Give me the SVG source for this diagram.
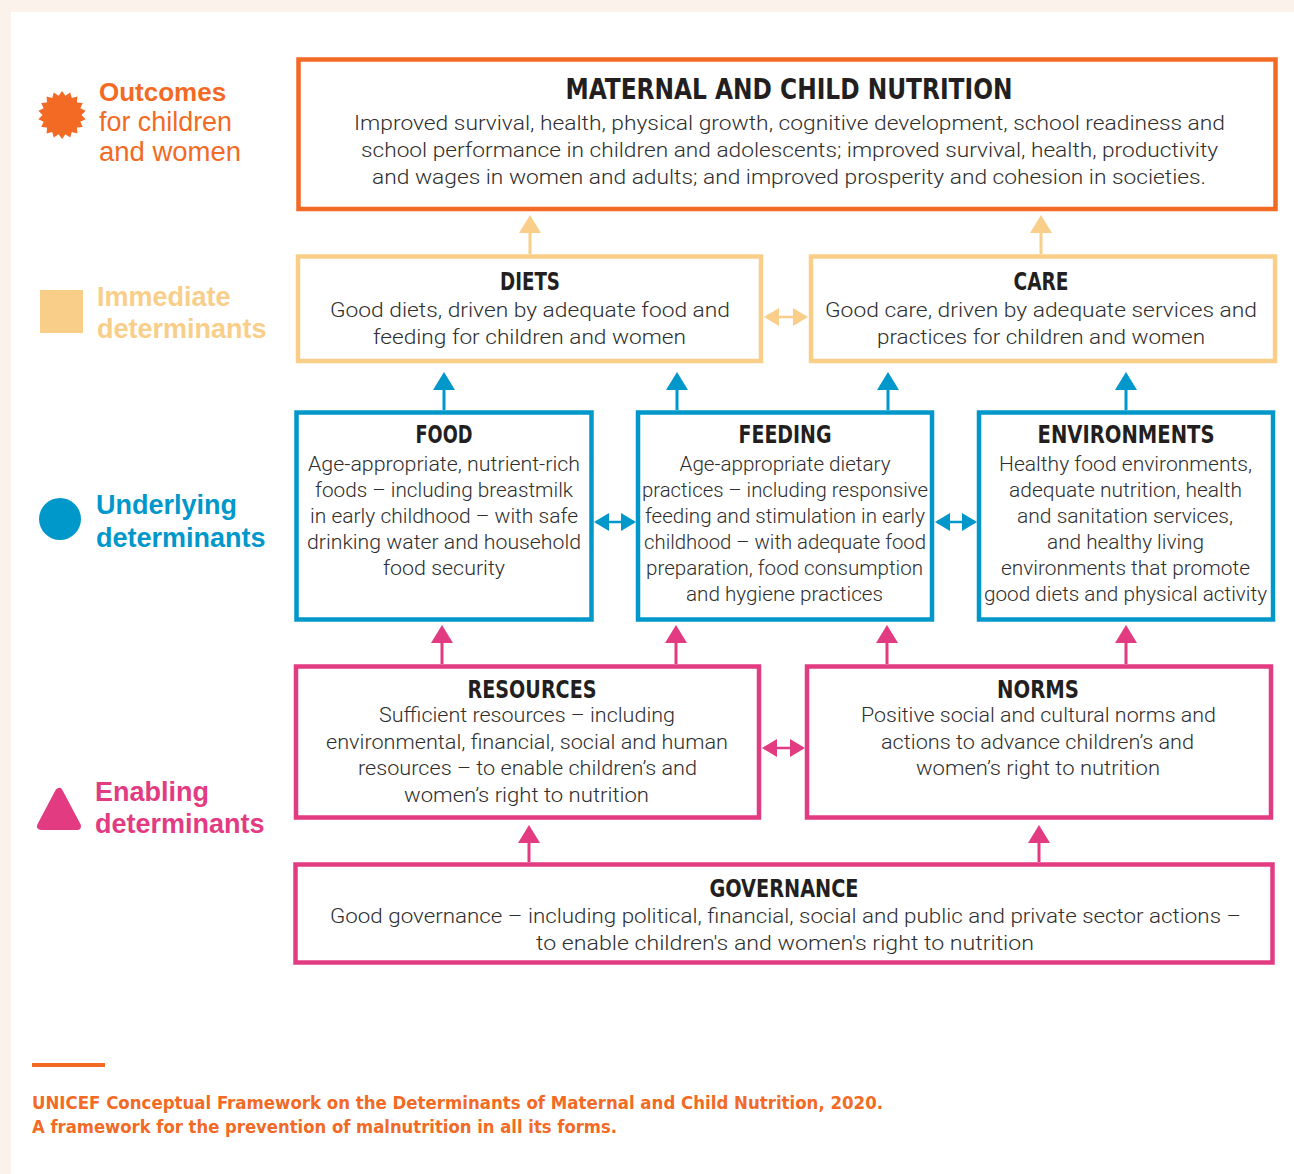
<svg xmlns="http://www.w3.org/2000/svg" width="1294" height="1174" viewBox="0 0 1294 1174">
<style>
.bg{fill:#FBF2EC}
.panel{fill:#FFFFFF}
.box{fill:#FFFFFF;stroke-width:4.5}
.o{stroke:#F26A24}
.y{stroke:#F9CE88}
.b{stroke:#0098CB}
.p{stroke:#E33B82}
.ttl{font-family:"Liberation Sans Narrow","DejaVu Sans Condensed","Roboto Condensed",sans-serif;font-weight:bold;fill:#231F20;text-anchor:middle}
.txt{font-family:Roboto,"Liberation Sans",Arial,sans-serif;font-weight:300;font-size:20px;fill:#2E2E2E;text-anchor:middle}
.leg{font-family:"Liberation Sans",Arial,sans-serif;font-size:26px}
.legr{font-family:"Liberation Sans",Arial,sans-serif;font-size:27px}
.legb{font-family:"Liberation Sans",Arial,sans-serif;font-size:27px;font-weight:bold}
.foot{font-family:"Liberation Sans Narrow","DejaVu Sans Condensed",sans-serif;font-weight:bold;font-size:18px;fill:#F26A24}
.conn line{fill:none}
</style>
<defs>
<marker id="upY" viewBox="0 0 18 22" refX="14" refY="11" markerWidth="18" markerHeight="22" markerUnits="userSpaceOnUse" orient="auto"><path d="M0,0 L18,11 L0,22 Z" fill="#F9CE88"/></marker>
<marker id="upB" viewBox="0 0 18 22" refX="14" refY="11" markerWidth="18" markerHeight="22" markerUnits="userSpaceOnUse" orient="auto"><path d="M0,0 L18,11 L0,22 Z" fill="#0098CB"/></marker>
<marker id="upP" viewBox="0 0 18 22" refX="14" refY="11" markerWidth="18" markerHeight="22" markerUnits="userSpaceOnUse" orient="auto"><path d="M0,0 L18,11 L0,22 Z" fill="#E33B82"/></marker>
<marker id="dY" viewBox="0 0 15 18" refX="13" refY="9" markerWidth="15" markerHeight="18" markerUnits="userSpaceOnUse" orient="auto-start-reverse"><path d="M0,0 L15,9 L0,18 Z" fill="#F9CE88"/></marker>
<marker id="dB" viewBox="0 0 15 18" refX="13" refY="9" markerWidth="15" markerHeight="18" markerUnits="userSpaceOnUse" orient="auto-start-reverse"><path d="M0,0 L15,9 L0,18 Z" fill="#0098CB"/></marker>
<marker id="dP" viewBox="0 0 15 18" refX="13" refY="9" markerWidth="15" markerHeight="18" markerUnits="userSpaceOnUse" orient="auto-start-reverse"><path d="M0,0 L15,9 L0,18 Z" fill="#E33B82"/></marker>
</defs>

<rect class="bg" x="0" y="0" width="1294" height="1174"/>
<rect class="panel" x="11" y="12" width="1283" height="1162"/>

<g id="legend">
  <g id="legend-outcomes">
    <polygon fill="#F26A24" points="62,91 65.39,95.8 70.21,92.45 71.75,98.11 77.43,96.62 76.94,102.47 82.78,103 80.32,108.33 85.64,110.83 81.5,115 85.64,119.17 80.32,121.67 82.78,127 76.94,127.53 77.43,133.38 71.75,131.89 70.21,137.55 65.39,134.2 62,139 58.61,134.2 53.79,137.55 52.25,131.89 46.57,133.38 47.06,127.53 41.22,127 43.68,121.67 38.36,119.17 42.5,115 38.36,110.83 43.68,108.33 41.22,103 47.06,102.47 46.57,96.62 52.25,98.11 53.79,92.45 58.61,95.8"/>
    <text class="leg" x="99" y="101" fill="#F26A24" font-weight="bold">Outcomes</text>
    <text class="legr" x="99" y="131" fill="#F26A24" textLength="133" lengthAdjust="spacingAndGlyphs">for children</text>
    <text class="legr" x="99" y="161" fill="#F26A24" textLength="142" lengthAdjust="spacingAndGlyphs">and women</text>
  </g>
  <g id="legend-immediate">
    <rect x="40" y="290" width="43" height="43" fill="#F9CE88"/>
    <text class="legb" x="97" y="306" fill="#F9CE88">Immediate</text>
    <text class="legb" x="97" y="338" fill="#F9CE88">determinants</text>
  </g>
  <g id="legend-underlying">
    <circle cx="60" cy="519" r="21" fill="#0098CB"/>
    <text class="legb" x="96" y="514" fill="#0098CB">Underlying</text>
    <text class="legb" x="96" y="547" fill="#0098CB">determinants</text>
  </g>
  <g id="legend-enabling">
    <polygon points="59,792 41,826 77,826" fill="#E33B82" stroke="#E33B82" stroke-width="8" stroke-linejoin="round"/>
    <text class="legb" x="95" y="801" fill="#E33B82">Enabling</text>
    <text class="legb" x="95" y="833" fill="#E33B82">determinants</text>
  </g>
</g>

<g id="connectors" class="conn">
  <line x1="530" y1="254" x2="530" y2="219" stroke="#F9CE88" stroke-width="3" marker-end="url(#upY)"/>
  <line x1="1041" y1="254" x2="1041" y2="219" stroke="#F9CE88" stroke-width="3" marker-end="url(#upY)"/>
  <line x1="766" y1="317" x2="806" y2="317" stroke="#F9CE88" stroke-width="2.5" marker-start="url(#dY)" marker-end="url(#dY)"/>

  <line x1="444" y1="410" x2="444" y2="376" stroke="#0098CB" stroke-width="3" marker-end="url(#upB)"/>
  <line x1="677" y1="410" x2="677" y2="376" stroke="#0098CB" stroke-width="3" marker-end="url(#upB)"/>
  <line x1="888" y1="410" x2="888" y2="376" stroke="#0098CB" stroke-width="3" marker-end="url(#upB)"/>
  <line x1="1126" y1="410" x2="1126" y2="376" stroke="#0098CB" stroke-width="3" marker-end="url(#upB)"/>
  <line x1="596" y1="522" x2="634" y2="522" stroke="#0098CB" stroke-width="2.5" marker-start="url(#dB)" marker-end="url(#dB)"/>
  <line x1="937" y1="522" x2="975" y2="522" stroke="#0098CB" stroke-width="2.5" marker-start="url(#dB)" marker-end="url(#dB)"/>

  <line x1="442" y1="664" x2="442" y2="629" stroke="#E33B82" stroke-width="3" marker-end="url(#upP)"/>
  <line x1="676" y1="664" x2="676" y2="629" stroke="#E33B82" stroke-width="3" marker-end="url(#upP)"/>
  <line x1="887" y1="664" x2="887" y2="629" stroke="#E33B82" stroke-width="3" marker-end="url(#upP)"/>
  <line x1="1126" y1="664" x2="1126" y2="629" stroke="#E33B82" stroke-width="3" marker-end="url(#upP)"/>
  <line x1="764" y1="748" x2="803" y2="748" stroke="#E33B82" stroke-width="2.5" marker-start="url(#dP)" marker-end="url(#dP)"/>

  <line x1="529" y1="862" x2="529" y2="829" stroke="#E33B82" stroke-width="3" marker-end="url(#upP)"/>
  <line x1="1039" y1="862" x2="1039" y2="829" stroke="#E33B82" stroke-width="3" marker-end="url(#upP)"/>
</g>

<g id="node-outcome">
  <rect class="box o" x="298.5" y="59.5" width="977" height="149.5"/>
  <text class="ttl" x="789" y="99" font-size="29" textLength="447" lengthAdjust="spacingAndGlyphs">MATERNAL AND CHILD NUTRITION</text>
  <text class="txt" x="789.5" y="130" textLength="871" lengthAdjust="spacingAndGlyphs">Improved survival, health, physical growth, cognitive development, school readiness and</text>
  <text class="txt" x="789.5" y="157" textLength="857" lengthAdjust="spacingAndGlyphs">school performance in children and adolescents; improved survival, health, productivity</text>
  <text class="txt" x="789" y="184" textLength="834" lengthAdjust="spacingAndGlyphs">and wages in women and adults; and improved prosperity and cohesion in societies.</text>
</g>

<g id="node-diets">
  <rect class="box y" x="298" y="256.5" width="463" height="104.5"/>
  <text class="ttl" x="530" y="290" font-size="24" textLength="60" lengthAdjust="spacingAndGlyphs">DIETS</text>
  <text class="txt" x="530" y="317" textLength="400" lengthAdjust="spacingAndGlyphs">Good diets, driven by adequate food and</text>
  <text class="txt" x="529.5" y="344" textLength="313" lengthAdjust="spacingAndGlyphs">feeding for children and women</text>
</g>

<g id="node-care">
  <rect class="box y" x="811" y="256.5" width="464" height="104.5"/>
  <text class="ttl" x="1041" y="290" font-size="24" textLength="55" lengthAdjust="spacingAndGlyphs">CARE</text>
  <text class="txt" x="1041" y="317" textLength="432" lengthAdjust="spacingAndGlyphs">Good care, driven by adequate services and</text>
  <text class="txt" x="1041" y="344" textLength="328" lengthAdjust="spacingAndGlyphs">practices for children and women</text>
</g>

<g id="node-food">
  <rect class="box b" x="296.5" y="412.5" width="295" height="207"/>
  <text class="ttl" x="444" y="443" font-size="24" textLength="57" lengthAdjust="spacingAndGlyphs">FOOD</text>
  <text class="txt" x="444" y="471" textLength="272" lengthAdjust="spacingAndGlyphs">Age-appropriate, nutrient-rich</text>
  <text class="txt" x="444" y="497" textLength="258" lengthAdjust="spacingAndGlyphs">foods – including breastmilk</text>
  <text class="txt" x="444" y="523" textLength="268" lengthAdjust="spacingAndGlyphs">in early childhood – with safe</text>
  <text class="txt" x="444" y="549" textLength="274" lengthAdjust="spacingAndGlyphs">drinking water and household</text>
  <text class="txt" x="444" y="575" textLength="122" lengthAdjust="spacingAndGlyphs">food security</text>
</g>

<g id="node-feeding">
  <rect class="box b" x="638" y="412.5" width="294" height="207"/>
  <text class="ttl" x="785" y="443" font-size="24" textLength="93" lengthAdjust="spacingAndGlyphs">FEEDING</text>
  <text class="txt" x="785" y="471" textLength="211" lengthAdjust="spacingAndGlyphs">Age-appropriate dietary</text>
  <text class="txt" x="785" y="497" textLength="286" lengthAdjust="spacingAndGlyphs">practices – including responsive</text>
  <text class="txt" x="785" y="523" textLength="280" lengthAdjust="spacingAndGlyphs">feeding and stimulation in early</text>
  <text class="txt" x="785" y="549" textLength="282" lengthAdjust="spacingAndGlyphs">childhood – with adequate food</text>
  <text class="txt" x="784.5" y="575" textLength="277" lengthAdjust="spacingAndGlyphs">preparation, food consumption</text>
  <text class="txt" x="784.5" y="601" textLength="197" lengthAdjust="spacingAndGlyphs">and hygiene practices</text>
</g>

<g id="node-environments">
  <rect class="box b" x="979" y="412.5" width="294" height="207"/>
  <text class="ttl" x="1126" y="443" font-size="24" textLength="177" lengthAdjust="spacingAndGlyphs">ENVIRONMENTS</text>
  <text class="txt" x="1125.5" y="471" textLength="253" lengthAdjust="spacingAndGlyphs">Healthy food environments,</text>
  <text class="txt" x="1125.5" y="497" textLength="233" lengthAdjust="spacingAndGlyphs">adequate nutrition, health</text>
  <text class="txt" x="1125" y="523" textLength="216" lengthAdjust="spacingAndGlyphs">and sanitation services,</text>
  <text class="txt" x="1125.5" y="549" textLength="157" lengthAdjust="spacingAndGlyphs">and healthy living</text>
  <text class="txt" x="1125.5" y="575" textLength="249" lengthAdjust="spacingAndGlyphs">environments that promote</text>
  <text class="txt" x="1125.5" y="601" textLength="283" lengthAdjust="spacingAndGlyphs">good diets and physical activity</text>
</g>

<g id="node-resources">
  <rect class="box p" x="296" y="666.5" width="463" height="151"/>
  <text class="ttl" x="532" y="698" font-size="24" textLength="129" lengthAdjust="spacingAndGlyphs">RESOURCES</text>
  <text class="txt" x="527" y="722" textLength="296" lengthAdjust="spacingAndGlyphs">Sufficient resources – including</text>
  <text class="txt" x="527" y="749" textLength="402" lengthAdjust="spacingAndGlyphs">environmental, financial, social and human</text>
  <text class="txt" x="527.5" y="775" textLength="339" lengthAdjust="spacingAndGlyphs">resources – to enable children’s and</text>
  <text class="txt" x="526.5" y="802" textLength="245" lengthAdjust="spacingAndGlyphs">women’s right to nutrition</text>
</g>

<g id="node-norms">
  <rect class="box p" x="807" y="666.5" width="464" height="151"/>
  <text class="ttl" x="1038" y="698" font-size="24" textLength="82" lengthAdjust="spacingAndGlyphs">NORMS</text>
  <text class="txt" x="1038.5" y="722" textLength="355" lengthAdjust="spacingAndGlyphs">Positive social and cultural norms and</text>
  <text class="txt" x="1037.5" y="749" textLength="313" lengthAdjust="spacingAndGlyphs">actions to advance children’s and</text>
  <text class="txt" x="1038" y="775" textLength="244" lengthAdjust="spacingAndGlyphs">women’s right to nutrition</text>
</g>

<g id="node-governance">
  <rect class="box p" x="295.5" y="864.5" width="977" height="98"/>
  <text class="ttl" x="784" y="897" font-size="24" textLength="149" lengthAdjust="spacingAndGlyphs">GOVERNANCE</text>
  <text class="txt" x="785.5" y="923" textLength="911" lengthAdjust="spacingAndGlyphs">Good governance – including political, financial, social and public and private sector actions –</text>
  <text class="txt" x="785" y="950" textLength="498" lengthAdjust="spacingAndGlyphs">to enable children's and women's right to nutrition</text>
</g>

<g id="footer">
  <line x1="32" y1="1065" x2="105" y2="1065" stroke="#F26A24" stroke-width="4"/>
  <text class="foot" x="32" y="1109" textLength="851" lengthAdjust="spacingAndGlyphs">UNICEF Conceptual Framework on the Determinants of Maternal and Child Nutrition, 2020.</text>
  <text class="foot" x="32" y="1133" textLength="585" lengthAdjust="spacingAndGlyphs">A framework for the prevention of malnutrition in all its forms.</text>
</g>
</svg>
